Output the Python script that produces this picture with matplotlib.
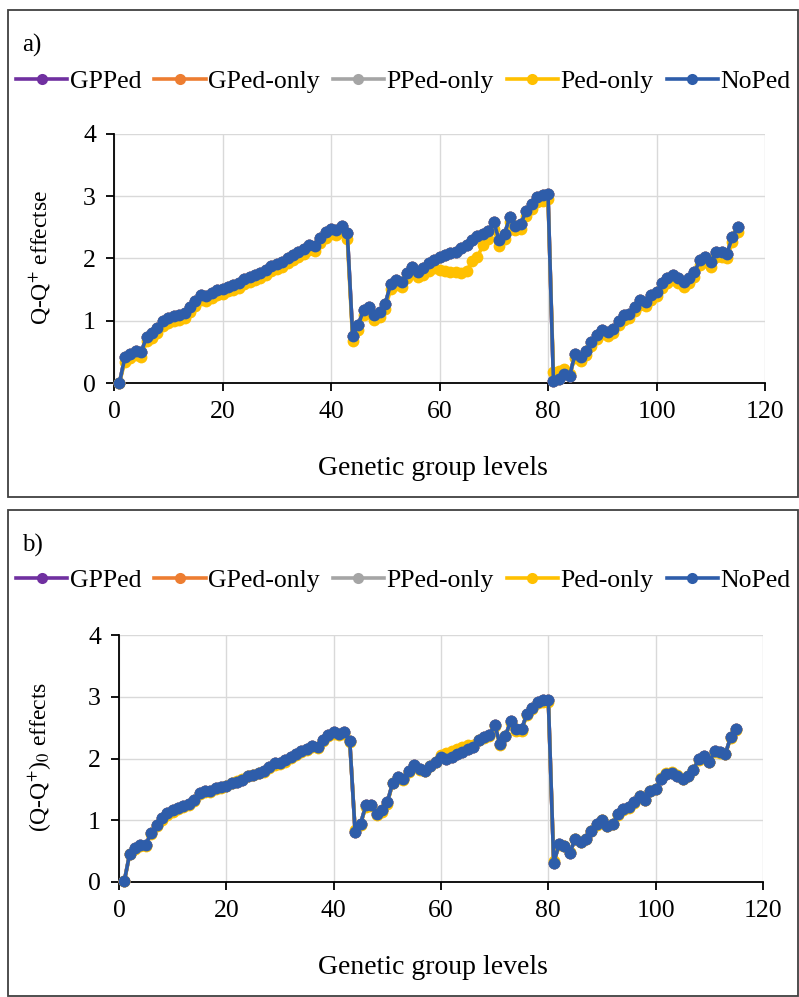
import matplotlib
matplotlib.use("Agg")
from matplotlib import pyplot as plt
from matplotlib.lines import Line2D
from matplotlib.patches import Rectangle
import numpy as np

plt.rcParams['font.family'] = ['Liberation Serif', 'DejaVu Serif']
plt.rcParams['mathtext.fontset'] = 'stix'

levels = list(range(1, 116))
series_names = ["GPPed", "GPed-only", "PPed-only", "Ped-only", "NoPed"]
series_colors = ["#7030A0", "#ED7D31", "#A5A5A5", "#FFC000", "#2E5DAA"]

# panel a) Q-Q+ effects
noped_a = [0.00, 0.41, 0.46, 0.51, 0.49, 0.74, 0.80, 0.88, 1.00, 1.05,
           1.08, 1.10, 1.13, 1.22, 1.32, 1.42, 1.40, 1.45, 1.49, 1.51,
           1.55, 1.58, 1.60, 1.67, 1.71, 1.74, 1.77, 1.82, 1.88, 1.91,
           1.95, 2.00, 2.05, 2.11, 2.16, 2.22, 2.20, 2.33, 2.42, 2.48,
           2.46, 2.52, 2.41, 0.75, 0.93, 1.17, 1.22, 1.09, 1.14, 1.27,
           1.59, 1.65, 1.62, 1.76, 1.86, 1.78, 1.84, 1.92, 1.97, 2.02,
           2.05, 2.09, 2.10, 2.17, 2.21, 2.30, 2.36, 2.40, 2.44, 2.59,
           2.29, 2.40, 2.67, 2.53, 2.56, 2.77, 2.88, 2.99, 3.02, 3.04,
           0.04, 0.07, 0.15, 0.12, 0.47, 0.42, 0.52, 0.66, 0.77, 0.85,
           0.82, 0.87, 1.00, 1.09, 1.11, 1.22, 1.33, 1.30, 1.41, 1.46,
           1.60, 1.68, 1.73, 1.68, 1.62, 1.68, 1.78, 1.97, 2.02, 1.94,
           2.10, 2.10, 2.08, 2.35, 2.51]
pedonly_a = [0.00, 0.34, 0.40, 0.45, 0.42, 0.67, 0.73, 0.81, 0.92, 0.97,
             1.00, 1.02, 1.05, 1.14, 1.24, 1.34, 1.32, 1.37, 1.41, 1.43,
             1.47, 1.50, 1.52, 1.59, 1.63, 1.66, 1.69, 1.74, 1.80, 1.83,
             1.87, 1.92, 1.97, 2.03, 2.08, 2.14, 2.12, 2.25, 2.33, 2.39,
             2.37, 2.42, 2.32, 0.67, 0.85, 1.09, 1.14, 1.01, 1.06, 1.19,
             1.51, 1.57, 1.55, 1.68, 1.78, 1.70, 1.74, 1.80, 1.84, 1.82,
             1.80, 1.79, 1.78, 1.77, 1.80, 1.96, 2.02, 2.22, 2.32, 2.48,
             2.20, 2.31, 2.58, 2.45, 2.47, 2.68, 2.80, 2.90, 2.93, 2.95,
             0.18, 0.20, 0.22, 0.15, 0.40, 0.36, 0.45, 0.59, 0.70, 0.78,
             0.75, 0.80, 0.93, 1.02, 1.04, 1.15, 1.26, 1.23, 1.34, 1.39,
             1.53, 1.61, 1.66, 1.60, 1.54, 1.60, 1.70, 1.89, 1.94, 1.86,
             2.02, 2.02, 2.00, 2.27, 2.43]
# GPPed, GPed-only and PPed-only lie under NoPed in the picture
gpped_a = list(noped_a)
gpedonly_a = list(noped_a)
ppedonly_a = list(noped_a)

# panel b) (Q-Q+)0 effects
noped_b = [0.02, 0.46, 0.55, 0.60, 0.60, 0.80, 0.92, 1.03, 1.11, 1.16,
           1.20, 1.23, 1.27, 1.33, 1.44, 1.48, 1.47, 1.52, 1.54, 1.56,
           1.60, 1.62, 1.65, 1.71, 1.74, 1.77, 1.79, 1.86, 1.92, 1.93,
           1.97, 2.03, 2.07, 2.12, 2.16, 2.20, 2.19, 2.30, 2.38, 2.43,
           2.40, 2.43, 2.28, 0.81, 0.94, 1.24, 1.25, 1.10, 1.16, 1.29,
           1.61, 1.70, 1.67, 1.80, 1.90, 1.83, 1.80, 1.88, 1.94, 2.02,
           2.00, 2.02, 2.07, 2.10, 2.15, 2.18, 2.30, 2.35, 2.38, 2.55,
           2.23, 2.37, 2.60, 2.47, 2.47, 2.72, 2.82, 2.92, 2.95, 2.95,
           0.31, 0.61, 0.59, 0.47, 0.70, 0.65, 0.70, 0.83, 0.94, 1.00,
           0.90, 0.94, 1.10, 1.18, 1.21, 1.29, 1.40, 1.33, 1.48, 1.50,
           1.67, 1.75, 1.77, 1.72, 1.67, 1.72, 1.81, 1.99, 2.04, 1.94,
           2.12, 2.10, 2.08, 2.35, 2.47]
pedonly_b = [0.02, 0.45, 0.53, 0.58, 0.58, 0.78, 0.90, 1.01, 1.09, 1.14,
             1.18, 1.21, 1.25, 1.31, 1.42, 1.46, 1.46, 1.51, 1.53, 1.56,
             1.60, 1.63, 1.66, 1.71, 1.73, 1.76, 1.78, 1.84, 1.90, 1.91,
             1.95, 2.01, 2.05, 2.10, 2.14, 2.18, 2.17, 2.28, 2.36, 2.40,
             2.38, 2.40, 2.26, 0.84, 0.93, 1.22, 1.23, 1.08, 1.14, 1.27,
             1.60, 1.68, 1.65, 1.78, 1.88, 1.82, 1.80, 1.88, 1.95, 2.06,
             2.09, 2.12, 2.16, 2.19, 2.22, 2.22, 2.30, 2.34, 2.37, 2.53,
             2.22, 2.36, 2.58, 2.45, 2.45, 2.70, 2.80, 2.90, 2.92, 2.92,
             0.34, 0.60, 0.58, 0.48, 0.69, 0.65, 0.70, 0.82, 0.93, 1.00,
             0.90, 0.94, 1.09, 1.17, 1.20, 1.28, 1.39, 1.33, 1.47, 1.50,
             1.68, 1.76, 1.78, 1.73, 1.67, 1.72, 1.81, 1.98, 2.03, 1.94,
             2.11, 2.09, 2.07, 2.34, 2.46]
gpped_b = list(noped_b)
gpedonly_b = list(noped_b)
ppedonly_b = list(noped_b)

panels = [
    dict(tag="a)", ylabel=r"Q-Q$^{+}$ effectse",
         data=[gpped_a, gpedonly_a, ppedonly_a, pedonly_a, noped_a],
         frame=(8, 10, 798, 497), axes=(114, 765, 383, 134),
         tag_y=45, leg_y=82, xlab_y=468, ylab_y=257),
    dict(tag="b)", ylabel=r"(Q-Q$^{+}$)$_{0}$ effects",
         data=[gpped_b, gpedonly_b, ppedonly_b, pedonly_b, noped_b],
         frame=(8, 510, 798, 996), axes=(119, 763, 882, 635),
         tag_y=545, leg_y=581, xlab_y=967, ylab_y=757),
]

W, H = 799, 997
fig = plt.figure(figsize=(W / 100, H / 100), dpi=100)

def fx(px):
    return px / W

def fy(py):
    return 1 - py / H

for p in panels:
    x0, y0, x1, y1 = p["frame"]
    fig.patches.append(Rectangle((fx(x0), fy(y1)), fx(x1) - fx(x0), fy(y0) - fy(y1),
                                 transform=fig.transFigure, fill=False,
                                 edgecolor="#404040", linewidth=1.3))
    l, r, b, t = p["axes"]
    ax = fig.add_axes([fx(l), fy(b), fx(r) - fx(l), fy(t) - fy(b)])
    for name, color, vals in zip(series_names, series_colors, p["data"]):
        ax.plot(levels, vals, color=color, linewidth=2.6, marker="o",
                markersize=8.5, markeredgewidth=0, clip_on=False, zorder=3)
    ax.set_xlim(0, 120)
    ax.set_ylim(0, 4)
    ax.set_xticks(np.arange(0, 121, 20))
    ax.set_yticks(np.arange(0, 5, 1))
    ax.grid(True, color="#D9D9D9", linewidth=1)
    ax.set_axisbelow(True)
    for s in ["top", "right"]:
        ax.spines[s].set_visible(False)
    for s in ["left", "bottom"]:
        ax.spines[s].set_linewidth(1.3)
    ax.tick_params(direction="out", length=6, width=1.3, labelsize=18.5, pad=7)

    fig.text(fx(22), fy(p["tag_y"]), p["tag"], fontsize=18, ha="left", va="center")
    fig.text(fx(433), fy(p["xlab_y"]), "Genetic group levels", fontsize=20,
             ha="center", va="center")
    fig.text(fx(40), fy(p["ylab_y"]), p["ylabel"], fontsize=17, rotation=90,
             ha="center", va="center")

    handles = [Line2D([], [], color=c, linewidth=2.6, marker="o", markersize=8,
                      markeredgewidth=0) for c in series_colors]
    fig.legend(handles, series_names, loc="center left",
               bbox_to_anchor=(fx(16), fy(p["leg_y"])), ncol=5, frameon=False,
               fontsize=18.5, handlelength=2.0, handletextpad=0.1,
               columnspacing=0.5, borderaxespad=0, borderpad=0)

fig.savefig("out.png", dpi=100)
